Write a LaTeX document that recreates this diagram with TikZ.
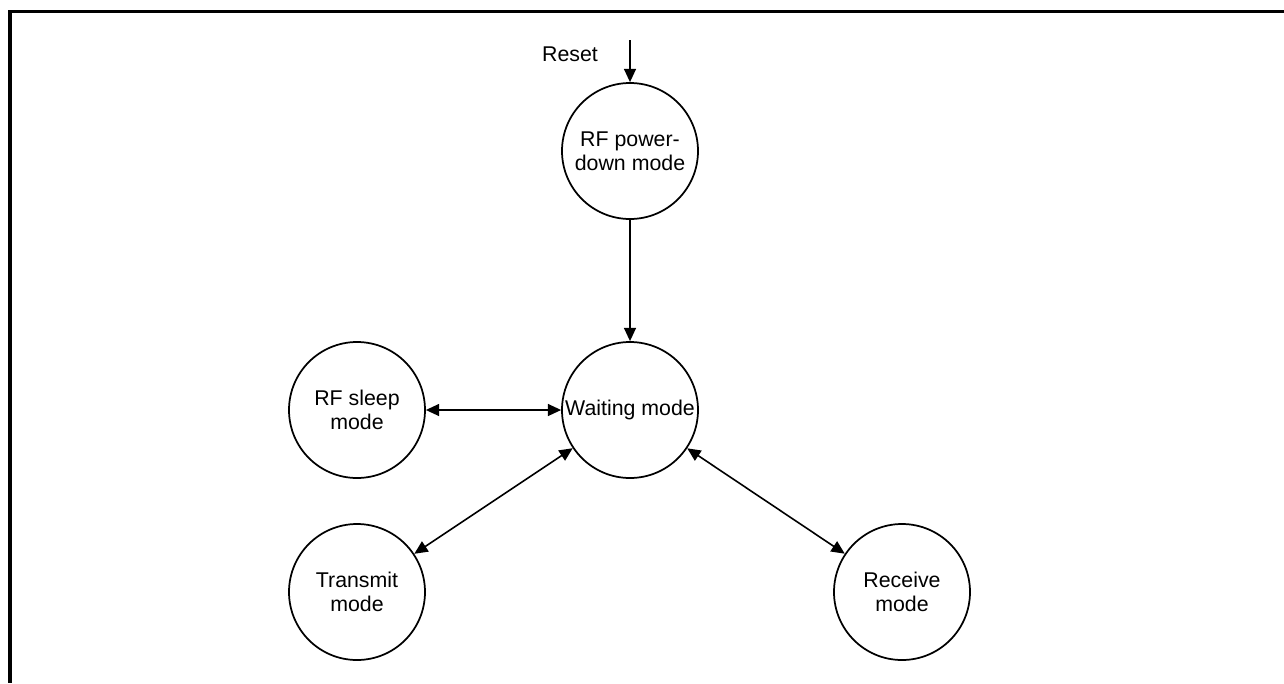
\documentclass[tikz,border=0pt]{standalone}
\usepackage{fontspec}
\setmainfont{Liberation Sans}
\usetikzlibrary{arrows.meta}

\tikzset{
  modenode/.style={circle, draw=black, line width=1.3pt, minimum size=102pt,
    inner sep=0pt, align=center, font=\fontsize{16}{18}\selectfont},
  link/.style={line width=1.2pt, -{Triangle[length=10pt, width=9pt]}},
  duallink/.style={line width=1.2pt,
    {Triangle[length=10pt, width=9pt]}-{Triangle[length=10pt, width=9pt]}},
}

\begin{document}
\begin{tikzpicture}[x=0.75pt, y=-0.75pt]
  % Page size in pixels of the reference
  \useasboundingbox (0,0) rectangle (1284,683);

  % Frame: top and left edges only
  \draw[line width=2.5pt] (1284,11.7) -- (10,11.7) -- (10,683);

  % Mode circles
  \node[modenode] (powerdown) at (630,151) {RF power-\\down mode};
  \node[modenode] (waiting)   at (630,410) {Waiting mode};
  \node[modenode] (sleep)     at (357,410) {RF sleep\\mode};
  \node[modenode] (transmit)  at (357,592) {Transmit\\mode};
  \node[modenode] (receive)   at (902,592) {Receive\\mode};

  % Reset entry
  \coordinate (resetstart) at (630,40);
  \node[font=\fontsize{16}{18}\selectfont] (reset) at (570,54) {Reset};
  \draw[link] (resetstart) -- (powerdown);

  % Transitions
  \draw[link]     (powerdown) -- (waiting);
  \draw[duallink] (sleep) -- (waiting);
  \draw[duallink] (transmit) -- (waiting);
  \draw[duallink] (receive) -- (waiting);

\end{tikzpicture}
\end{document}
